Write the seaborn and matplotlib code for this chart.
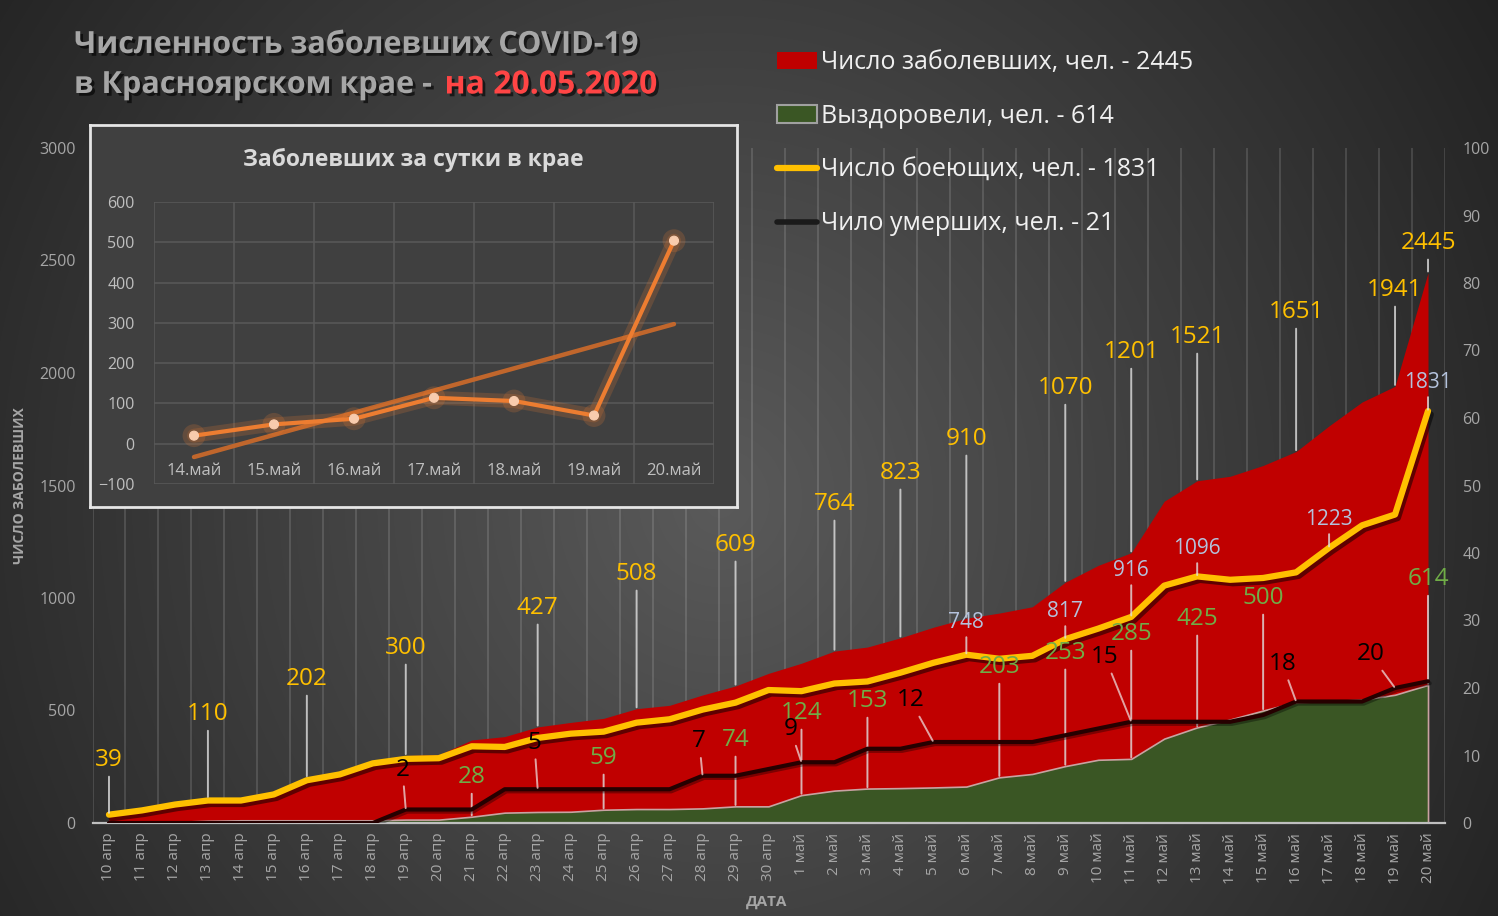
import numpy as np
import pandas as pd
import matplotlib
matplotlib.use("Agg")
import matplotlib.pyplot as plt
import matplotlib.patheffects as pe
from matplotlib.lines import Line2D
from matplotlib.patches import Patch
import seaborn as sns

# ---------------- data ----------------
dates = [f"{d} апр" for d in range(10, 31)] + [f"{d} май" for d in range(1, 21)]

total = [39, 58, 87, 110, 112, 139, 202, 228, 277, 300, 303, 369, 384, 427, 447, 465, 508,
         523, 569, 609, 665,
         710, 764, 782, 823, 870, 910, 933, 961, 1070, 1145, 1201, 1430, 1521, 1541, 1589,
         1651, 1765, 1871, 1941, 2445]
recovered = [2, 2, 5, 10, 12, 12, 12, 12, 12, 15, 15, 28, 46, 49, 50, 59, 62, 62, 65, 74, 74,
             124, 144, 153, 155, 158, 162, 203, 218, 253, 281, 285, 375, 425, 460, 500,
             537, 542, 548, 570, 614]
active = [37, 56, 82, 100, 100, 127, 190, 216, 265, 285, 288, 341, 338, 378, 397, 406, 446,
          461, 504, 535, 591,
          586, 620, 629, 668, 712, 748, 730, 743, 817, 864, 916, 1055, 1096, 1081, 1089,
          1114, 1223, 1323, 1371, 1831]
deaths = [0, 0, 0, 0, 0, 0, 0, 0, 0, 2, 2, 2, 5, 5, 5, 5, 5, 5, 7, 7, 8,
          9, 9, 11, 11, 12, 12, 12, 12, 13, 14, 15, 15, 15, 15, 16, 18, 18, 18, 20, 21]

inset_days = ["14.май", "15.май", "16.май", "17.май", "18.май", "19.май", "20.май"]
inset_daily = [20, 48, 62, 114, 106, 70, 504]

legend_labels = ["Число заболевших, чел. - 2445", "Выздоровели, чел. - 614",
                 "Число боеющих, чел. - 1831", "Чило умерших, чел. - 21"]

# label placement (which day, where the text sits)
total_lab_idx = [0, 3, 6, 9, 13, 16, 19, 22, 24, 26, 29, 31, 33, 36, 39, 40]
total_lab_y = [280, 484, 640, 778, 956, 1107, 1236, 1418, 1556, 1707, 1933, 2093, 2160, 2271, 2369, 2578]
active_lab_idx = [26, 29, 31, 33, 37, 40]
active_lab_y = [893, 942, 1124, 1222, 1351, 1960]
rec_lab_idx = [11, 15, 19, 21, 23, 27, 29, 31, 33, 35, 40]
rec_lab_y = [204, 289, 369, 489, 542, 693, 756, 840, 907, 1000, 1084]
death_lab_idx = [9, 13, 18, 21, 25, 31, 36, 39]
death_lab_x = [8.9, 12.9, 17.9, 20.66, 24.3, 30.2, 35.58, 38.25]
death_lab_y = [7.9, 11.9, 12.1, 13.9, 18.2, 24.6, 23.6, 25.0]

df = pd.DataFrame({"i": np.arange(len(dates)), "date": dates, "total": total,
                   "recovered": recovered, "active": active, "deaths": deaths})
dfi = pd.DataFrame({"k": np.arange(len(inset_days)), "day": inset_days, "daily": inset_daily})

# ---------------- style ----------------
sns.set_theme(style="dark")
plt.rcParams["font.family"] = ["Open Sans", "DejaVu Sans"]

W, H = 1498, 916
fig = plt.figure(figsize=(W / 100, H / 100), dpi=100)

# radial gradient background
yy, xx = np.mgrid[0:H, 0:W]
r = np.sqrt(((xx - 720) / 850.0) ** 2 + ((yy - 500) / 900.0) ** 2)
val = (90 - 52 * np.clip(r, 0, 1.1)) / 255.0
bg = fig.add_axes([0, 0, 1, 1], zorder=-5)
bg.imshow(np.dstack([val, val, val]), extent=[0, 1, 0, 1], aspect="auto", origin="upper")
bg.axis("off")


def fx(px):
    return px / W


def fy(py):
    return 1 - py / H


# ---------------- main axes ----------------
ax = fig.add_axes([fx(92.5), fy(823), fx(1444.5) - fx(92.5), fy(148) - fy(823)], zorder=1)
ax.set_facecolor("none")

ax.fill_between(df["i"], df["total"], color="#c00000", lw=0, zorder=1)
ax.fill_between(df["i"], df["recovered"], facecolor="#3a5624", edgecolor="#c9a2a2",
                lw=1.2, zorder=2)
sns.lineplot(data=df, x="i", y="active", ax=ax, color="#ffc000", lw=4.5, zorder=4,
             path_effects=[pe.SimpleLineShadow(offset=(2, -2.5), shadow_color="black", alpha=0.5),
                           pe.Normal()])

ax.set_xlim(-0.5, len(dates) - 0.5)
ax.set_ylim(0, 3000)
ax.set_xticks(df["i"])
ax.set_xticklabels(dates, rotation=90)
ax.set_xticks(np.arange(-0.5, len(dates), 1), minor=True)
ax.set_yticks(np.arange(0, 3001, 500))
ax.tick_params(axis="x", which="major", length=0, pad=7, labelsize=11, labelcolor="#a6a6a6")
ax.tick_params(axis="x", which="minor", length=9, width=1.3, direction="inout", color="#bfbfbf")
ax.tick_params(axis="y", length=0, pad=12, labelsize=11.5, labelcolor="#a6a6a6")
ax.grid(False)
ax.grid(axis="x", which="minor", color="white", alpha=0.14, lw=1.3)
for s in ["left", "right", "top"]:
    ax.spines[s].set_visible(False)
ax.spines["bottom"].set_color("#bfbfbf")
ax.spines["bottom"].set_linewidth(1.6)
ax.set_xlabel("")
ax.set_ylabel("")

lead = dict(arrowstyle="-", color="#e0e0e0", lw=1.4, shrinkA=1, shrinkB=1, alpha=0.8)

for i, ty in zip(total_lab_idx, total_lab_y):
    ax.annotate(str(total[i]), xy=(i, total[i]), xytext=(i, ty), ha="center", va="center",
                color="#ffc000", fontsize=17.5, arrowprops=lead, zorder=6)
for i, ty in zip(active_lab_idx, active_lab_y):
    ax.annotate(str(active[i]), xy=(i, active[i]), xytext=(i, ty), ha="center", va="center",
                color="#b4c2dc", fontsize=15, arrowprops=lead, zorder=6)
for i, ty in zip(rec_lab_idx, rec_lab_y):
    ax.annotate(str(recovered[i]), xy=(i, recovered[i]), xytext=(i, ty), ha="center", va="center",
                color="#70ad47", fontsize=17.5, arrowprops=lead, zorder=6)

# ---------------- right axis: deaths ----------------
ax2 = ax.twinx()
ax2.set_facecolor("none")
sns.lineplot(data=df, x="i", y="deaths", ax=ax2, color="#260000", lw=3, zorder=5,
             path_effects=[pe.SimpleLineShadow(offset=(1.2, -1.5), shadow_color="black", alpha=0.35),
                           pe.Normal()])
ax2.set_ylim(0, 100)
ax2.set_xlim(-0.5, len(dates) - 0.5)
ax2.set_yticks(np.arange(0, 101, 10))
ax2.tick_params(axis="y", length=0, pad=13, labelsize=11.5, labelcolor="#a6a6a6")
ax2.grid(False)
for s in ax2.spines.values():
    s.set_visible(False)
ax2.set_ylabel("")
for i, tx, ty in zip(death_lab_idx, death_lab_x, death_lab_y):
    ax2.annotate(str(deaths[i]), xy=(i, deaths[i]), xytext=(tx, ty), ha="center", va="center",
                 color="black", fontsize=17.5,
                 arrowprops=dict(arrowstyle="-", color="#e8c0c0", lw=1.4, shrinkA=1, shrinkB=1,
                                 alpha=0.85), zorder=6)

# ---------------- texts ----------------
fig.text(fx(20), fy(486), "ЧИСЛО ЗАБОЛЕВШИХ", rotation=90, ha="center", va="center",
         fontsize=10, fontweight="bold", color="#a6a6a6")
fig.text(fx(767), fy(902), "ДАТА", ha="center", va="center", fontsize=11,
         fontweight="bold", color="#a6a6a6")

shadow = [pe.SimplePatchShadow(offset=(2, -2), shadow_rgbFace="black", alpha=0.6), pe.Normal()]
fig.text(fx(74), fy(45), "Численность заболевших COVID-19", ha="left", va="center",
         fontsize=22, fontweight="bold", color="#a6a6a6", path_effects=shadow)
t2 = fig.text(fx(74), fy(85), "в Красноярском крае - ", ha="left", va="center",
              fontsize=22, fontweight="bold", color="#a6a6a6", path_effects=shadow)
fig.canvas.draw()
bb = t2.get_window_extent(fig.canvas.get_renderer())
fig.text(bb.x1 / W + fx(6), fy(85), "на 20.05.2020", ha="left", va="center",
         fontsize=23, fontweight="bold", color="#ff4545", path_effects=shadow)

# ---------------- legend ----------------
handles = [Patch(facecolor="#c00000", edgecolor="none"),
           Patch(facecolor="#3a5624", edgecolor="#a0a0a0", lw=1.5),
           Line2D([], [], color="#ffc000", lw=4.5),
           Line2D([], [], color="#1a1a1a", lw=4)]
leg = fig.legend(handles, legend_labels, loc="upper left", bbox_to_anchor=(fx(777), fy(50)),
                 frameon=False, fontsize=18, labelcolor="#f0f0f0", handlelength=1.6,
                 handletextpad=0.15, labelspacing=1.15, borderaxespad=0, borderpad=0)

# ---------------- inset ----------------
box = fig.add_axes([fx(90), fy(507), fx(737) - fx(90), fy(125) - fy(507)], zorder=5)
box.set_facecolor("#404040")
box.set_xticks([])
box.set_yticks([])
for s in box.spines.values():
    s.set_color("#e6e6e6")
    s.set_linewidth(2)
    s.set_visible(True)
box.text(0.5, 1 - 35 / 382, "Заболевших за сутки в крае", transform=box.transAxes,
         ha="center", va="center", fontsize=16.5, fontweight="bold", color="#d9d9d9")

ins = fig.add_axes([fx(154), fy(484), fx(714) - fx(154), fy(202) - fy(484)], zorder=6)
ins.set_facecolor("none")
glow = [pe.Stroke(linewidth=10, foreground="#ed7d31", alpha=0.2), pe.Normal()]
sns.regplot(data=dfi, x="k", y="daily", ax=ins, scatter=False, ci=None, truncate=True,
            line_kws=dict(color="#c8692b", lw=3.2, alpha=0.95))
sns.lineplot(data=dfi, x="k", y="daily", ax=ins, color="#ed7d31", lw=3, marker="o",
             markersize=6.5, markerfacecolor="#f8cbad", markeredgecolor="#f8cbad",
             path_effects=glow)
ins.set_xlim(-0.5, len(inset_days) - 0.5)
ins.set_ylim(-100, 600)
ins.set_yticks(np.arange(-100, 601, 100))
ins.set_xticks(dfi["k"])
ins.set_xticklabels(inset_days)
ins.set_xticks(np.arange(-0.5, len(inset_days), 1), minor=True)
ins.spines["bottom"].set_position(("data", 0))
for s in ins.spines.values():
    s.set_visible(False)
ins.tick_params(axis="x", which="both", length=0, pad=14, labelsize=12, labelcolor="#bfbfbf")
ins.tick_params(axis="y", length=0, pad=14, labelsize=11.5, labelcolor="#bfbfbf")
ins.grid(False)
ins.grid(axis="y", which="major", color="#585858", lw=1.2)
ins.grid(axis="x", which="minor", color="#585858", lw=1.2)
ins.set_xlabel("")
ins.set_ylabel("")

fig.savefig("out.png", dpi=100)
